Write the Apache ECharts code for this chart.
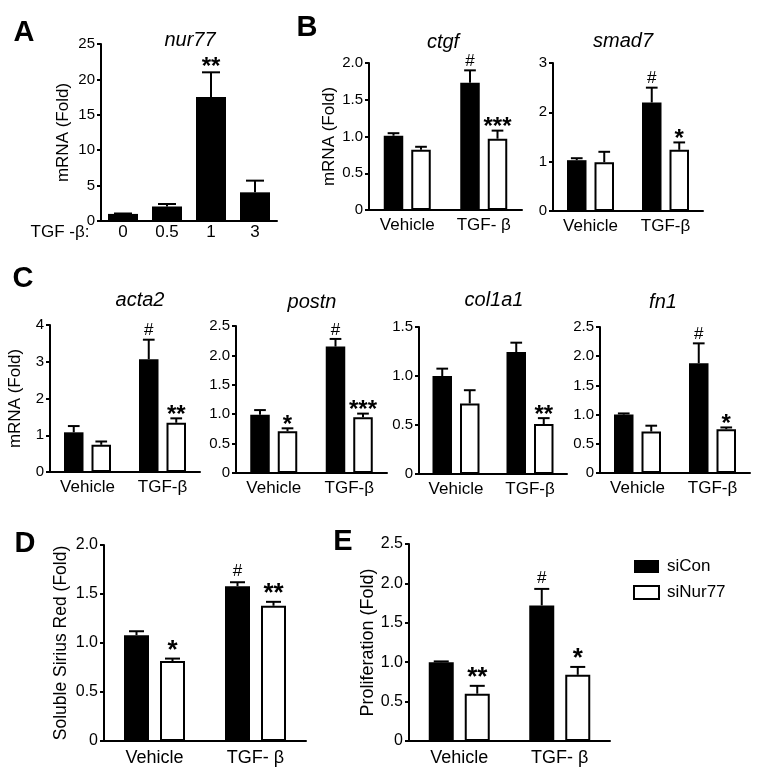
<!DOCTYPE html>
<html><head><meta charset="utf-8">
<script src="https://cdn.jsdelivr.net/npm/echarts@6/dist/echarts.min.js"></script>
<style>html,body{margin:0;padding:0;background:#fff}#c{width:759px;height:774px}</style>
</head><body><div id="c"></div>
<script>
// ---------------- DATA ----------------
const nurCats = ['0', '0.5', '1', '3'];
const nurMean = [1.0, 2.05, 17.5, 4.05];
const nurErr  = [0.06, 0.35, 3.5, 1.65];
const nurSig  = ['', '', '**', ''];

const groupsB = ['Vehicle', 'TGF- β'];
const groupsC = ['Vehicle', 'TGF-β'];
const groupsDE = ['Vehicle', 'TGF- β'];
const seriesNames = ['siCon', 'siNur77'];

const ctgfCon = [1.01, 1.73],  ctgfConErr = [0.035, 0.17], ctgfConSig = ['', '#'];
const ctgfNur = [0.82, 0.97],  ctgfNurErr = [0.04, 0.11],  ctgfNurSig = ['', '***'];

const smad7Con = [1.03, 2.2],  smad7ConErr = [0.04, 0.3],  smad7ConSig = ['', '#'];
const smad7Nur = [0.99, 1.24], smad7NurErr = [0.21, 0.15], smad7NurSig = ['', '*'];

const acta2Con = [1.08, 3.07], acta2ConErr = [0.17, 0.53], acta2ConSig = ['', '#'];
const acta2Nur = [0.74, 1.34], acta2NurErr = [0.09, 0.12], acta2NurSig = ['', '**'];

const postnCon = [0.99, 2.15], postnConErr = [0.08, 0.13], postnConSig = ['', '#'];
const postnNur = [0.71, 0.95], postnNurErr = [0.05, 0.06], postnNurSig = ['*', '***'];

const col1a1Con = [1.0, 1.245], col1a1ConErr = [0.075, 0.095], col1a1ConSig = ['', ''];
const col1a1Nur = [0.72, 0.51], col1a1NurErr = [0.135, 0.06], col1a1NurSig = ['', '**'];

const fn1Con = [1.0, 1.88],    fn1ConErr = [0.02, 0.34],   fn1ConSig = ['', '#'];
const fn1Nur = [0.71, 0.75],   fn1NurErr = [0.1, 0.03],    fn1NurSig = ['', '*'];

const siriusCon = [1.08, 1.58], siriusConErr = [0.04, 0.04], siriusConSig = ['', '#'];
const siriusNur = [0.816, 1.38], siriusNurErr = [0.025, 0.04], siriusNurSig = ['*', '**'];

const prolifCon = [1.0, 1.72], prolifConErr = [0.01, 0.21], prolifConSig = ['', '#'];
const prolifNur = [0.6, 0.84], prolifNurErr = [0.1, 0.1],   prolifNurSig = ['**', '*'];

// ---------------- BUILD ----------------
const FONT = "'Liberation Sans', Arial, Helvetica, sans-serif";
const grids = [], xAxes = [], yAxes = [], series = [];
const fmtDec = v => v === 0 ? '0' : v.toFixed(1);
const fmtInt = v => String(v);

function errSeries(gi, mean, err, sig, dx, capW, p) {
  return {
    type: 'custom', xAxisIndex: gi, yAxisIndex: gi, z: 5, silent: true,
    data: mean.map((m, i) => [i, m, m + err[i]]),
    renderItem: function (params, api) {
      const i = api.value(0);
      const p0 = api.coord([i, api.value(1)]);
      const p1 = api.coord([i, api.value(2)]);
      const x = p0[0] + dx;
      const ch = [
        {type: 'line', shape: {x1: x, y1: p0[1], x2: x, y2: p1[1]}, style: {stroke: '#000', lineWidth: 2}},
        {type: 'line', shape: {x1: x - capW / 2, y1: p1[1], x2: x + capW / 2, y2: p1[1]}, style: {stroke: '#000', lineWidth: 2}}
      ];
      const s = sig[params.dataIndex];
      if (s) {
        const isHash = s === '#';
        ch.push({type: 'text', x: x, y: p1[1] - (isHash ? p.hashOff : p.starOff),
          style: {text: s, align: 'center', verticalAlign: 'middle', textAlign: 'center', textVerticalAlign: 'middle',
            fill: '#000',
            font: (isHash ? 'normal ' + p.hashFont : 'bold ' + p.starFont) + 'px ' + FONT}});
      }
      return {type: 'group', children: ch};
    }
  };
}

function addPanel(p) {
  const gi = grids.length;
  grids.push({left: p.left, top: p.top, width: p.width, height: p.height});
  xAxes.push({
    type: 'category', gridIndex: gi, data: p.cats,
    axisLine: {lineStyle: {color: '#000', width: 2}},
    axisTick: {alignWithLabel: true, length: 5, lineStyle: {color: '#000', width: 2}},
    axisLabel: {color: '#000', fontSize: p.catFont, fontFamily: FONT, margin: p.catMargin}
  });
  yAxes.push({
    type: 'value', gridIndex: gi, min: 0, max: p.max, interval: p.interval,
    axisLine: {show: true, lineStyle: {color: '#000', width: 2}},
    axisTick: {show: true, length: 4, lineStyle: {color: '#000', width: 2}},
    splitLine: {show: false},
    axisLabel: {color: '#000', fontSize: p.tickFont, fontFamily: FONT, margin: 6, formatter: p.fmt},
    name: p.yName || '', nameLocation: 'middle', nameGap: p.nameGap || 30,
    nameTextStyle: {color: '#000', fontSize: p.nameFont || 17, fontFamily: FONT}
  });
  const bw = p.bw, gapPx = p.gap;
  const dxs = p.single ? [0] : [-(bw + gapPx) / 2, (bw + gapPx) / 2];
  p.vals.forEach((d, k) => {
    const white = k === 1;
    series.push({
      type: 'bar', name: p.single ? 'nur77' : seriesNames[k], xAxisIndex: gi, yAxisIndex: gi,
      data: d.mean, barWidth: bw, barGap: (gapPx / bw * 100) + '%', z: 2, silent: true,
      itemStyle: white ? {color: '#fff', borderColor: '#000', borderWidth: 2} : {color: '#000'}
    });
    series.push(errSeries(gi, d.mean, d.err, d.sig, dxs[k], bw * 0.6, p));
  });
}

const styleBC = {bw: 19.5, gap: 8, catFont: 17, tickFont: 15, catMargin: 7, starFont: 24, hashFont: 17, starOff: 3, hashOff: 9};
const styleDE = {bw: 25, gap: 11, catFont: 18, tickFont: 16, catMargin: 8, starFont: 26, hashFont: 17, starOff: 8, hashOff: 11};

addPanel(Object.assign({}, styleBC, {left: 101, top: 44, width: 176, height: 177, cats: nurCats, max: 25, interval: 5, fmt: fmtInt,
  single: true, bw: 30, catMargin: 3, yName: 'mRNA (Fold)', nameGap: 29, starOff: 5,
  vals: [{mean: nurMean, err: nurErr, sig: nurSig}]}));
addPanel(Object.assign({}, styleBC, {left: 369, top: 63, width: 153, height: 147, cats: groupsB, max: 2, interval: 0.5, fmt: fmtDec,
  yName: 'mRNA (Fold)', nameGap: 19,
  vals: [{mean: ctgfCon, err: ctgfConErr, sig: ctgfConSig}, {mean: ctgfNur, err: ctgfNurErr, sig: ctgfNurSig}]}));
addPanel(Object.assign({}, styleBC, {left: 553, top: 63, width: 150, height: 148, cats: groupsC, max: 3, interval: 1, fmt: fmtInt,
  vals: [{mean: smad7Con, err: smad7ConErr, sig: smad7ConSig}, {mean: smad7Nur, err: smad7NurErr, sig: smad7NurSig}]}));
addPanel(Object.assign({}, styleBC, {left: 50, top: 325, width: 150, height: 147, cats: groupsC, max: 4, interval: 1, fmt: fmtInt,
  yName: 'mRNA (Fold)', nameGap: 26,
  vals: [{mean: acta2Con, err: acta2ConErr, sig: acta2ConSig}, {mean: acta2Nur, err: acta2NurErr, sig: acta2NurSig}]}));
addPanel(Object.assign({}, styleBC, {left: 236, top: 326, width: 151, height: 147, cats: groupsC, max: 2.5, interval: 0.5, fmt: fmtDec,
  vals: [{mean: postnCon, err: postnConErr, sig: postnConSig}, {mean: postnNur, err: postnNurErr, sig: postnNurSig}]}));
addPanel(Object.assign({}, styleBC, {left: 419, top: 327, width: 148, height: 147, cats: groupsC, max: 1.5, interval: 0.5, fmt: fmtDec,
  vals: [{mean: col1a1Con, err: col1a1ConErr, sig: col1a1ConSig}, {mean: col1a1Nur, err: col1a1NurErr, sig: col1a1NurSig}]}));
addPanel(Object.assign({}, styleBC, {left: 600, top: 327, width: 150, height: 146, cats: groupsC, max: 2.5, interval: 0.5, fmt: fmtDec,
  vals: [{mean: fn1Con, err: fn1ConErr, sig: fn1ConSig}, {mean: fn1Nur, err: fn1NurErr, sig: fn1NurSig}]}));
addPanel(Object.assign({}, styleDE, {left: 104, top: 545, width: 202, height: 196, cats: groupsDE, max: 2, interval: 0.5, fmt: fmtDec,
  yName: 'Soluble Sirius Red (Fold)', nameGap: 34, nameFont: 17.5,
  vals: [{mean: siriusCon, err: siriusConErr, sig: siriusConSig}, {mean: siriusNur, err: siriusNurErr, sig: siriusNurSig}]}));
addPanel(Object.assign({}, styleDE, {left: 409, top: 544, width: 201, height: 197, cats: groupsDE, max: 2.5, interval: 0.5, fmt: fmtDec,
  yName: 'Proliferation (Fold)', nameGap: 32, nameFont: 18,
  vals: [{mean: prolifCon, err: prolifConErr, sig: prolifConSig}, {mean: prolifNur, err: prolifNurErr, sig: prolifNurSig}]}));

function txt(text, x, y, font) {
  return {type: 'text', x: x, y: y, silent: true,
    style: {text: text, align: 'center', verticalAlign: 'middle', textAlign: 'center', textVerticalAlign: 'middle', fill: '#000', font: font}};
}
const letterFont = 'bold 29px ' + FONT;
const titleFont = 'italic 20px ' + FONT;
const graphics = [
  txt('A', 24, 33, letterFont), txt('B', 307, 28, letterFont), txt('C', 23, 279, letterFont),
  txt('D', 25, 544, letterFont), txt('E', 343, 542, letterFont),
  txt('nur77', 190, 40, titleFont), txt('ctgf', 443, 42, titleFont), txt('smad7', 623, 41, titleFont),
  txt('acta2', 140, 300, titleFont), txt('postn', 312, 302, titleFont), txt('col1a1', 494, 300, titleFont), txt('fn1', 663, 302, titleFont),
  txt('TGF -β:', 60, 232, '17px ' + FONT)
];

const chart = echarts.init(document.getElementById('c'), null, {renderer: 'canvas'});
chart.setOption({
  backgroundColor: '#fff',
  animation: false,
  grid: grids, xAxis: xAxes, yAxis: yAxes, series: series,
  legend: {data: seriesNames, orient: 'vertical', left: 628, top: 553, itemWidth: 25, itemHeight: 13, itemGap: 9,
    icon: 'rect', selectedMode: false,
    textStyle: {color: '#000', fontSize: 17, fontFamily: FONT, padding: [0, 0, 0, 3]}},
  graphic: graphics
});
</script></body></html>
